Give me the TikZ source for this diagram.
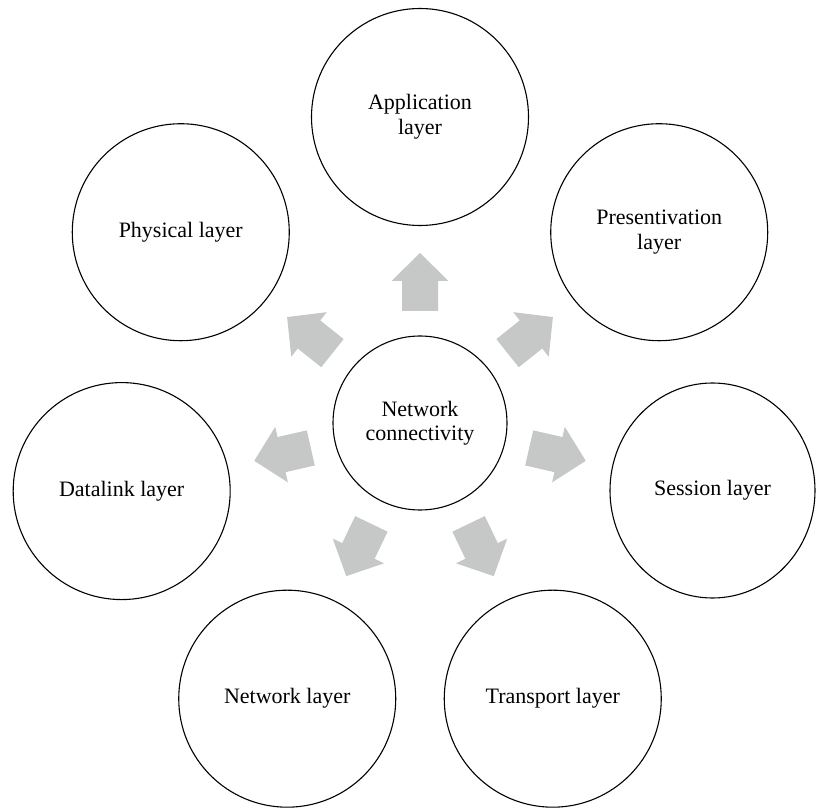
\documentclass[tikz,border=0pt]{standalone}
\usepackage{fontspec}
\setmainfont{Liberation Serif}
\usetikzlibrary{calc,shapes.geometric}
\definecolor{arrowgray}{RGB}{198,200,199}
\begin{document}
\begin{tikzpicture}[x=1pt,y=1pt,
  layer/.style={circle, draw=black, line width=1.1pt, minimum size=217pt, inner sep=0pt, align=center, font=\fontsize{22}{25}\selectfont},
  hub/.style={circle, draw=black, line width=1.1pt, minimum size=174pt, inner sep=0pt, align=center, font=\fontsize{22}{24}\selectfont},
  blockarrow/.style={fill=arrowgray, draw=none}]
\useasboundingbox (0,0) rectangle (817,807);
\node[hub] (c) at (420,384) {Network\\connectivity};
\node[layer] (app) at ($(c)+(90:306)$) {Application\\layer};
\node[layer] (pres) at ($(c)+(38.571:306)$) {Presentivation\\layer};
\node[layer, ellipse, minimum width=205pt, minimum height=215pt] (ses) at (712.5,316.5) {Session layer};
\node[layer] (tra) at ($(c)+(-64.286:306)$) {Transport layer};
\node[layer] (net) at ($(c)+(-115.714:306)$) {Network layer};
\node[layer] (dat) at ($(c)+(-167.143:306)$) {Datalink layer};
\node[layer] (phy) at ($(c)+(141.429:306)$) {Physical layer};
\foreach \a in {90,38.571,-12.857,-64.286,-115.714,-167.143,141.429} {
  \path[blockarrow, shift={(c)}, rotate=\a]
    (112,-18) -- (142,-18) -- (142,-28.5) -- (170,0) -- (142,28.5) -- (142,18) -- (112,18) -- cycle;
}
\end{tikzpicture}
\end{document}
